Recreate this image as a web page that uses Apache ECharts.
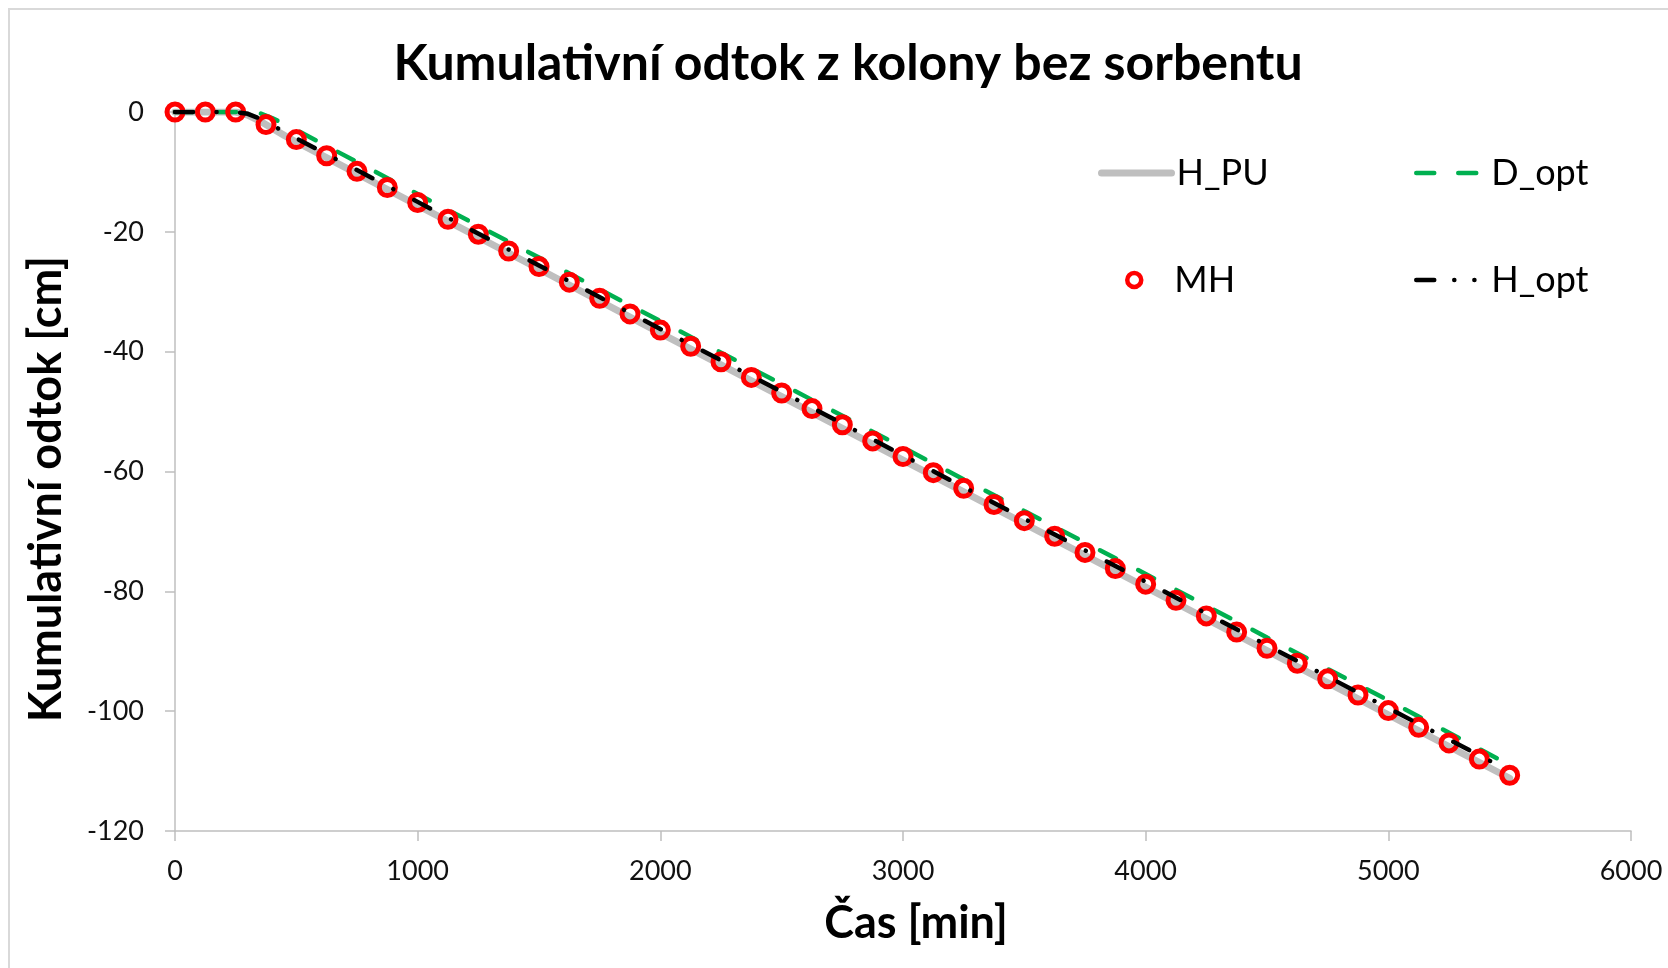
<!DOCTYPE html>
<html>
<head>
<meta charset="utf-8">
<title>Kumulativní odtok z kolony bez sorbentu</title>
<script src="https://cdn.jsdelivr.net/npm/echarts@6/dist/echarts.min.js"></script>
<style>
  html, body { margin: 0; padding: 0; background: #fff; }
  #chart { width: 1668px; height: 968px; }
</style>
</head>
<body>
<div id="chart"></div>
<script>
// měřené body MH (čas v min, odtok v cm)
const mhTime = [0, 125, 250, 375, 500, 625, 750, 875, 1000, 1125, 1250, 1375, 1500, 1625, 1750, 1875,
  2000, 2125, 2250, 2375, 2500, 2625, 2750, 2875, 3000, 3125, 3250, 3375, 3500, 3625, 3750, 3875,
  4000, 4125, 4250, 4375, 4500, 4625, 4750, 4875, 5000, 5125, 5250, 5375, 5500]
const mhValue = [0, 0, 0, -2.1, -4.6, -7.3, -9.9, -12.6, -15.1, -17.9, -20.4, -23.2, -25.8, -28.4, -31.1, -33.7,
  -36.4, -39.1, -41.7, -44.3, -46.9, -49.5, -52.2, -54.9, -57.5, -60.2, -62.8, -65.5, -68.2, -70.8, -73.5, -76.2,
  -78.8, -81.5, -84.1, -86.8, -89.5, -92.0, -94.6, -97.3, -99.9, -102.7, -105.3, -108.0, -110.7]

// simulované průběhy
const lineTime = [0, 250, 300, 350, 400, 450, 500, 1000, 1500, 2000, 2500, 3000, 3500, 4000, 4500, 5000, 5500]
const hpuValue = [0, 0, -0.5, -1.5, -2.7, -3.9, -5.0, -15.6, -26.2, -36.9, -47.5, -58.1, -68.7, -79.3, -89.9, -100.6, -111.2]
const doptValue = [0, 0, 0, -0.2, -1.0, -2.0, -3.0, -13.7, -24.3, -34.9, -45.4, -56.0, -66.6, -77.1, -87.7, -98.2, -109.0]
const hoptValue = [0, 0, -0.3, -1.1, -2.2, -3.3, -4.4, -15.0, -25.6, -36.2, -46.7, -57.3, -67.9, -78.4, -89.0, -99.5, -110.0]

const xTicks = [0, 1000, 2000, 3000, 4000, 5000, 6000]
const yTicks = [0, -20, -40, -60, -80, -100, -120]

const pairs = (xs, ys) => xs.map((x, i) => [x, ys[i]])

const FONT = 'Lato, "Open Sans", sans-serif'
const axisGray = '#BFBFBF'

const hpuLine = { color: '#BFBFBF', width: 7, cap: 'round' }
const doptLine = { color: '#00B050', width: 4.5, type: [18, 25], cap: 'round' }
const hoptLine = { color: '#000', width: 4.5, type: [18, 23.5, 0.1, 23.5], cap: 'round' }

const chart = echarts.init(document.getElementById('chart'))

const legendBase = {
  orient: 'horizontal',
  itemWidth: 70,
  itemHeight: 14,
  itemGap: 0,
  selectedMode: false,
  textStyle: { fontFamily: FONT, fontSize: 36, color: '#000' }
}
const noSymbol = { opacity: 0 }

chart.setOption({
  animation: false,
  graphic: [
    {
      type: 'rect',
      shape: { x: 9, y: 9, width: 1700, height: 1000 },
      style: { fill: 'none', stroke: '#D9D9D9', lineWidth: 2 },
      silent: true
    },
    {
      type: 'text', x: 848, y: 64,
      style: { text: 'Kumulativní odtok z kolony bez sorbentu', font: 'bold 50px ' + FONT, fill: '#000', align: 'center', verticalAlign: 'middle' }
    },
    {
      type: 'text', x: 916, y: 923,
      style: { text: 'Čas [min]', font: 'bold 45px ' + FONT, fill: '#000', align: 'center', verticalAlign: 'middle' }
    },
    {
      type: 'text', x: 46, y: 489, rotation: Math.PI / 2,
      style: { text: 'Kumulativní odtok [cm]', font: 'bold 45px ' + FONT, fill: '#000', align: 'center', verticalAlign: 'middle' }
    }
  ],
  grid: { left: 175, right: 37, top: 112, bottom: 137 },
  legend: [
    Object.assign({}, legendBase, {
      left: 1093, top: 150,
      data: [{ name: 'H_PU', itemStyle: noSymbol, lineStyle: hpuLine }]
    }),
    Object.assign({}, legendBase, {
      left: 1409, top: 150,
      data: [{ name: 'D_opt', itemStyle: noSymbol, lineStyle: { color: '#00B050', width: 4.5, type: [18, 24], cap: 'round' } }]
    }),
    Object.assign({}, legendBase, {
      left: 1120, top: 257,
      data: [{ name: 'MH', icon: 'circle', itemStyle: { color: 'rgba(0,0,0,0)', borderColor: '#FF0000', borderWidth: 4.5 } }]
    }),
    Object.assign({}, legendBase, {
      left: 1409, top: 257,
      data: [{ name: 'H_opt', itemStyle: noSymbol, lineStyle: { color: '#000', width: 4.5, type: [18, 20, 0.1, 20, 0.1, 100], cap: 'round' } }]
    })
  ],
  xAxis: {
    type: 'value',
    min: xTicks[0],
    max: xTicks[xTicks.length - 1],
    interval: 1000,
    axisLine: { show: true, onZero: false, lineStyle: { color: axisGray, width: 1.5 } },
    axisTick: { show: true, inside: false, length: 10, lineStyle: { color: axisGray, width: 1.5 } },
    splitLine: { show: false },
    axisLabel: { margin: 27, fontFamily: FONT, fontSize: 27, color: '#111', formatter: v => String(v) }
  },
  yAxis: {
    type: 'value',
    min: yTicks[yTicks.length - 1],
    max: yTicks[0],
    interval: 20,
    axisLine: { show: true, onZero: false, lineStyle: { color: axisGray, width: 1.5 } },
    axisTick: { show: true, inside: false, length: 10, lineStyle: { color: axisGray, width: 1.5 } },
    splitLine: { show: false },
    axisLabel: { margin: 31, fontFamily: FONT, fontSize: 27, color: '#111', formatter: v => String(v) }
  },
  series: [
    {
      name: 'H_PU',
      type: 'line',
      data: pairs(lineTime, hpuValue),
      symbol: 'none',
      z: 1,
      lineStyle: hpuLine,
      itemStyle: { color: '#BFBFBF' }
    },
    {
      name: 'D_opt',
      type: 'line',
      data: pairs(lineTime, doptValue),
      symbol: 'none',
      z: 2,
      lineStyle: doptLine,
      itemStyle: { color: '#00B050' }
    },
    {
      name: 'MH',
      type: 'scatter',
      data: pairs(mhTime, mhValue),
      symbol: 'circle',
      symbolSize: 16,
      z: 3,
      itemStyle: { color: 'rgba(0,0,0,0)', borderColor: '#FF0000', borderWidth: 5, opacity: 1 }
    },
    {
      name: 'H_opt',
      type: 'line',
      data: pairs(lineTime, hoptValue),
      symbol: 'none',
      z: 4,
      lineStyle: hoptLine,
      itemStyle: { color: '#000' }
    }
  ]
})
</script>
</body>
</html>
